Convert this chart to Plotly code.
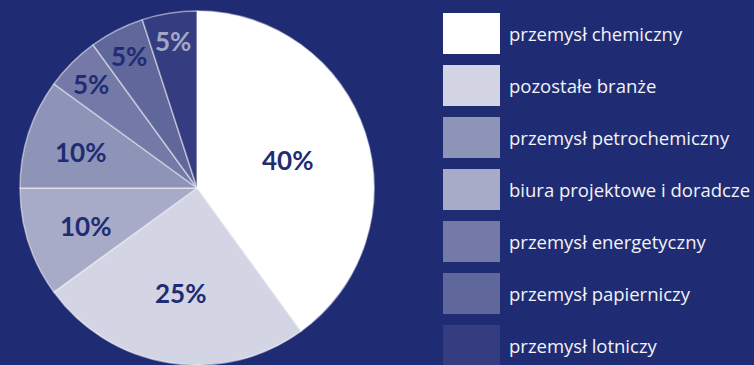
import math
import plotly.graph_objects as go

# Industry shares (clockwise from 12 o'clock)
sectors = [
    "przemysł chemiczny",
    "pozostałe branże",
    "biura projektowe i doradcze",
    "przemysł petrochemiczny",
    "przemysł energetyczny",
    "przemysł papierniczy",
    "przemysł lotniczy",
]
shares = [40, 25, 10, 10, 5, 5, 5]

# Order of entries in the key on the right
legend_order = [
    "przemysł chemiczny",
    "pozostałe branże",
    "przemysł petrochemiczny",
    "biura projektowe i doradcze",
    "przemysł energetyczny",
    "przemysł papierniczy",
    "przemysł lotniczy",
]

# Styling
BG = "#1f2c74"
colors = {
    "przemysł chemiczny": "#ffffff",
    "pozostałe branże": "#d3d5e5",
    "biura projektowe i doradcze": "#a7abc8",
    "przemysł petrochemiczny": "#8e93b8",
    "przemysł energetyczny": "#7479a8",
    "przemysł papierniczy": "#5f679b",
    "przemysł lotniczy": "#353d80",
}
label_colors = {s: BG for s in sectors}
label_colors["przemysł lotniczy"] = "#a2a7c8"

W, H = 754, 365
CX, CY, R = 197, 188, 177          # pie centre / radius in pixels
TOP = CY - R
BOTTOM = H - (CY + R)
PLOT_H = H - TOP - BOTTOM
label_radius = [0.54, 0.59, 0.66, 0.69, 0.85, 0.85, 0.85]
LABEL_DROP = 2                      # nudge so the digits sit optically centred


def px_x(x):
    return x / W


def px_y(y):
    # pixel row (from top of page) -> paper coordinate of the plot area
    return 1 - (y - TOP) / PLOT_H


fig = go.Figure(
    go.Pie(
        labels=sectors,
        values=shares,
        sort=False,
        direction="clockwise",
        rotation=0,
        textinfo="none",
        hoverinfo="label+percent",
        marker=dict(
            colors=[colors[s] for s in sectors],
            line=dict(color="rgba(255,255,255,0.5)", width=1.5),
        ),
        domain=dict(x=[(CX - R) / W, (CX + R) / W], y=[0, 1]),
        showlegend=False,
    )
)

annotations = []
shapes = []

# Percentage labels placed at the middle angle of each slice
total = sum(shares)
cum = 0
for s, v, rf in zip(sectors, shares, label_radius):
    mid = (cum + v / 2) / total * 2 * math.pi
    cum += v
    px = CX + rf * R * math.sin(mid)
    py = CY - rf * R * math.cos(mid) + LABEL_DROP
    annotations.append(dict(
        x=px_x(px), y=px_y(py), xref="paper", yref="paper",
        text=f"{round(v / total * 100)}%", showarrow=False,
        xanchor="center", yanchor="middle",
        font=dict(family="Lato", size=26, color=label_colors[s], weight="bold"),
    ))

# Key: colour swatches with sector names
SW_X0, SW_X1, SW_Y0, SW_H, STEP = 443, 500, 13, 41, 52
for i, s in enumerate(legend_order):
    y0 = SW_Y0 + STEP * i
    shapes.append(dict(
        type="rect", xref="paper", yref="paper",
        x0=px_x(SW_X0), x1=px_x(SW_X1),
        y0=px_y(y0 + SW_H), y1=px_y(y0),
        fillcolor=colors[s], line=dict(width=0), layer="above",
    ))
    annotations.append(dict(
        x=px_x(507), y=px_y(y0 + SW_H / 2), xref="paper", yref="paper",
        text=s, showarrow=False, xanchor="left", yanchor="middle",
        font=dict(family="Open Sans", size=18.5, color="#f2f2f7"),
    ))

fig.update_layout(
    width=W, height=H,
    margin=dict(l=0, r=0, t=TOP, b=BOTTOM),
    paper_bgcolor=BG, plot_bgcolor=BG,
    annotations=annotations, shapes=shapes,
)

fig.write_html("out.html")
